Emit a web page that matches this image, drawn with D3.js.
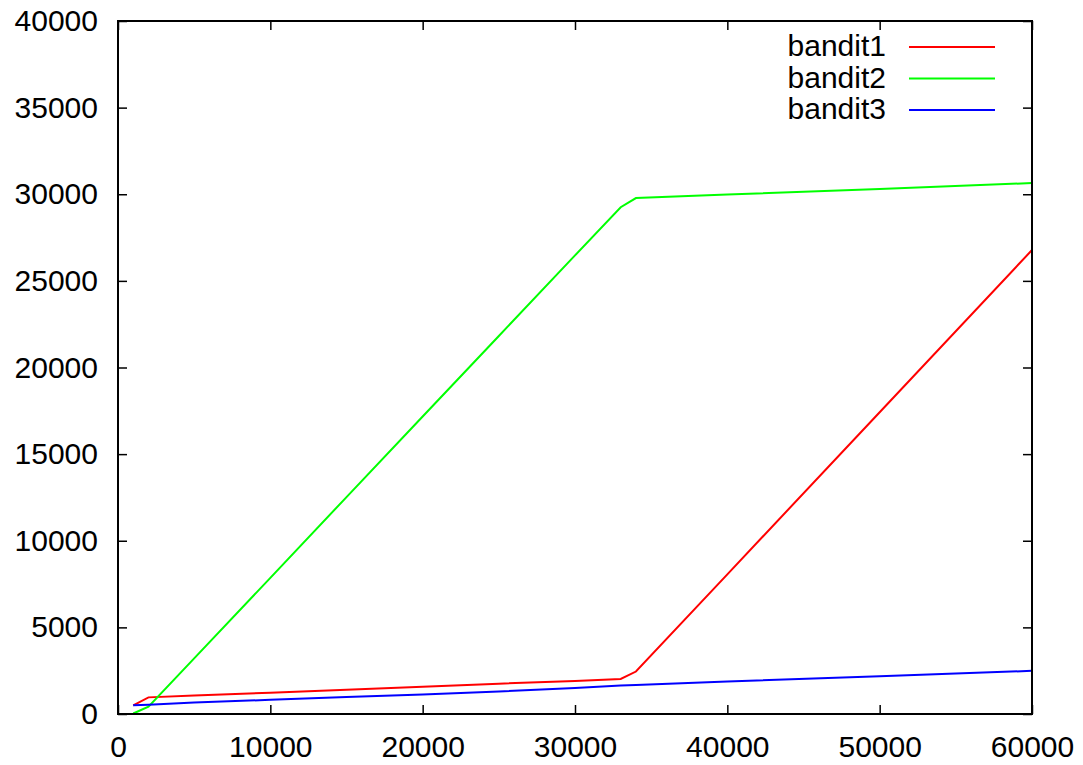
<!DOCTYPE html>
<html>
<head>
<meta charset="utf-8">
<script src="https://d3js.org/d3.v7.min.js"></script>
<style>
  body { margin: 0; background: #fff; }
  svg { display: block; font-family: "Liberation Sans", Arial, sans-serif; }
</style>
</head>
<body>
<script>
// data (steps)
const steps = [1000, 2000, 5000, 10000, 15000, 20000, 25000, 30000, 33000, 34000, 40000, 50000, 60000];
const bandit1 = [500, 960, 1070, 1230, 1400, 1580, 1750, 1900, 2020, 2450, 8060, 17420, 26780];
const bandit2 = [30, 420, 3210, 7860, 12520, 17170, 21820, 26470, 29250, 29780, 29990, 30300, 30650];
const bandit3 = [500, 540, 660, 820, 980, 1130, 1300, 1500, 1640, 1680, 1880, 2180, 2490];
const seriesNames = ["bandit1", "bandit2", "bandit3"];
const seriesColors = ["#ff0000", "#00ff00", "#0000ff"];
const xTicks = [0, 10000, 20000, 30000, 40000, 50000, 60000];
const yTicks = [0, 5000, 10000, 15000, 20000, 25000, 30000, 35000, 40000];

const W = 1083, H = 765;
const margin = { top: 21, right: 51, bottom: 51, left: 118 };
const innerW = W - margin.left - margin.right;
const innerH = H - margin.top - margin.bottom;

const svg = d3.select("body").append("svg").attr("width", W).attr("height", H);
const g = svg.append("g").attr("transform", `translate(${margin.left},${margin.top})`);

const x = d3.scaleLinear().domain([0, 60000]).range([0, innerW]);
const y = d3.scaleLinear().domain([0, 40000]).range([innerH, 0]);

const fontSize = "30px";
const tickLen = 9;

function styleAxis(sel) {
  sel.select(".domain").remove();
  sel.selectAll(".tick line").attr("stroke", "#000").attr("stroke-width", 1.5);
  sel.selectAll(".tick text").attr("fill", "#000").style("font-size", fontSize);
}

// axes, ticks pointing inward on all four sides
g.append("g")
  .attr("transform", `translate(0,${innerH})`)
  .call(d3.axisBottom(x).tickValues(xTicks).tickSizeInner(-tickLen).tickSizeOuter(0).tickPadding(22).tickFormat(d3.format("d")))
  .call(styleAxis);

g.append("g")
  .call(d3.axisLeft(y).tickValues(yTicks).tickSizeInner(-tickLen).tickSizeOuter(0).tickPadding(20).tickFormat(d3.format("d")))
  .call(styleAxis);

g.append("g")
  .call(d3.axisTop(x).tickValues(xTicks).tickSizeInner(-tickLen).tickSizeOuter(0).tickFormat(""))
  .call(styleAxis);

g.append("g")
  .attr("transform", `translate(${innerW},0)`)
  .call(d3.axisRight(y).tickValues(yTicks).tickSizeInner(-tickLen).tickSizeOuter(0).tickFormat(""))
  .call(styleAxis);

// series
const series = [bandit1, bandit2, bandit3].map((vals, i) => ({
  name: seriesNames[i],
  color: seriesColors[i],
  values: steps.map((s, j) => ({ x: s, y: vals[j] }))
}));

const line = d3.line().x(d => x(d.x)).y(d => y(d.y));

g.selectAll(".series")
  .data(series)
  .enter()
  .append("path")
  .attr("class", "series")
  .attr("fill", "none")
  .attr("stroke", d => d.color)
  .attr("stroke-width", 2)
  .attr("d", d => line(d.values));

// frame
g.append("rect")
  .attr("width", innerW)
  .attr("height", innerH)
  .attr("fill", "none")
  .attr("stroke", "#000")
  .attr("stroke-width", 2);

// legend
const legend = g.append("g").attr("transform", `translate(${886 - margin.left},${47 - margin.top})`);
const rows = legend.selectAll("g")
  .data(series)
  .enter()
  .append("g")
  .attr("transform", (d, i) => `translate(0,${i * 31.5})`);

rows.append("text")
  .attr("x", 0)
  .attr("y", 9)
  .attr("text-anchor", "end")
  .style("font-size", fontSize)
  .text(d => d.name);

rows.append("line")
  .attr("x1", 23)
  .attr("x2", 109)
  .attr("stroke", d => d.color)
  .attr("stroke-width", 2);
</script>
</body>
</html>
